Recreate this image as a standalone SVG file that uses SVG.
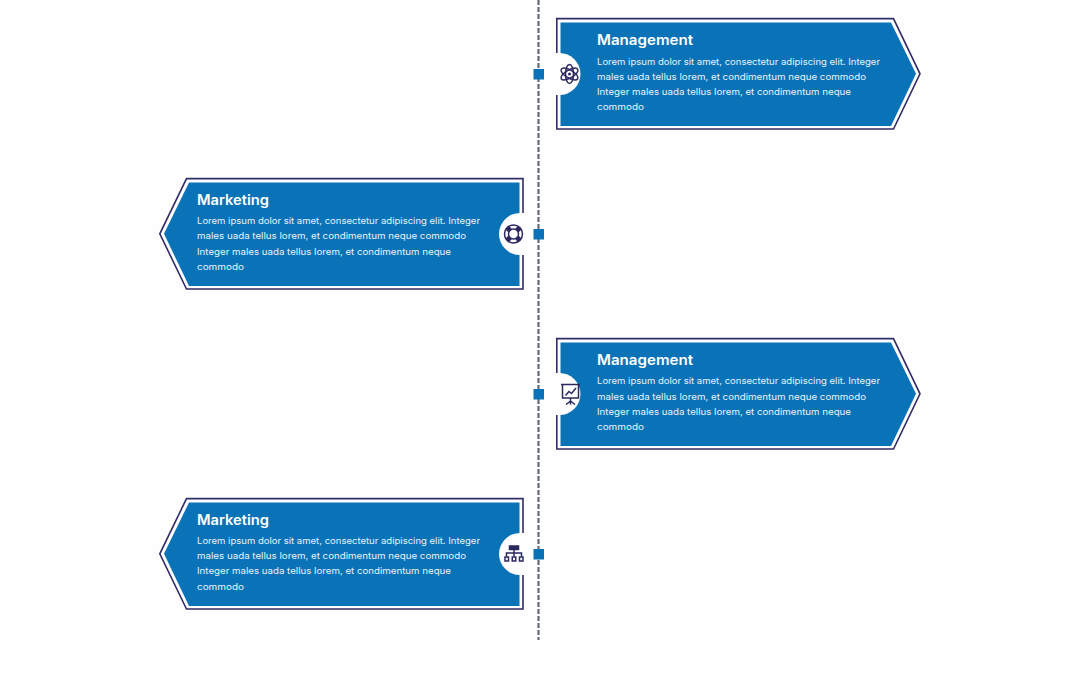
<svg xmlns="http://www.w3.org/2000/svg" xmlns:xlink="http://www.w3.org/1999/xlink" width="1080" height="675" viewBox="0 0 1080 675">
<style>
.bg{fill:#fefefe}
.out{fill:none;stroke:#2f2c66;stroke-width:1.6}
.blue{fill:#0a72b6}
.hole{fill:#fefefe}
.sq{fill:#0a72b6}
.t{font-family:"Inter","Noto Sans","Liberation Sans",sans-serif;font-size:14px;font-weight:600;fill:#fff}
.b{font-family:"Inter","Noto Sans","Liberation Sans",sans-serif;font-size:9px;fill:#e8f2f9}
.ic{fill:none;stroke:#2b2860;stroke-width:1.500}
.icf{fill:#2b2860}
</style>
<defs>
<g id="cardR">
<path class="out" d="M556.800 54V18.600H893.500L920 73.800L893.500 129H556.800V95"/>
<path class="blue" d="M560.500 22.500H891L916 73.800L891 126H560.500Z"/>
<path class="hole" d="M555 53H559.500A21 21 0 0 1 559.500 95H555Z"/>
</g>
<g id="cardL">
<path class="out" d="M523 214V178.600H186.500L159.800 233.800L186.500 289H523V255"/>
<path class="blue" d="M519.500 182.500H189L164 233.800L189 286H519.500Z"/>
<path class="hole" d="M525 213H520A21 21 0 0 0 520 255H525Z"/>
</g>
</defs>
<rect class="bg" width="1080" height="675"/>
<g id="connectors">
<line x1="538.500" y1="0" x2="538.500" y2="640" stroke="#666c76" stroke-width="2.200" stroke-dasharray="5 2"/>
<rect class="sq" x="533.500" y="69" width="10.500" height="10.500"/>
<rect class="sq" x="533.500" y="229" width="10.500" height="10.500"/>
<rect class="sq" x="533.500" y="389" width="10.500" height="10.500"/>
<rect class="sq" x="533.500" y="549" width="10.500" height="10.500"/>
</g>
<g id="node-1">
<use xlink:href="#cardR" href="#cardR"/>
<text class="t" x="597" y="45" textLength="96" lengthAdjust="spacingAndGlyphs">Management</text>
<text class="b" x="597" y="64.500" textLength="283" lengthAdjust="spacingAndGlyphs">Lorem ipsum dolor sit amet, consectetur adipiscing elit. Integer</text>
<text class="b" x="597" y="79.500" textLength="269" lengthAdjust="spacingAndGlyphs">males uada tellus lorem, et condimentum neque commodo</text>
<text class="b" x="597" y="94.500" textLength="254" lengthAdjust="spacingAndGlyphs">Integer males uada tellus lorem, et condimentum neque</text>
<text class="b" x="597" y="109.500" textLength="47" lengthAdjust="spacingAndGlyphs">commodo</text>
<g class="ic" transform="translate(569.500 74)">
<ellipse rx="4" ry="9.500"/>
<ellipse rx="4" ry="9.500" transform="rotate(60)"/>
<ellipse rx="4" ry="9.500" transform="rotate(-60)"/>
<circle class="icf" r="1.500" stroke="none"/>
</g>
</g>
<g id="node-2">
<use xlink:href="#cardL" href="#cardL"/>
<text class="t" x="197" y="205" textLength="72" lengthAdjust="spacingAndGlyphs">Marketing</text>
<text class="b" x="197" y="224" textLength="283" lengthAdjust="spacingAndGlyphs">Lorem ipsum dolor sit amet, consectetur adipiscing elit. Integer</text>
<text class="b" x="197" y="239" textLength="269" lengthAdjust="spacingAndGlyphs">males uada tellus lorem, et condimentum neque commodo</text>
<text class="b" x="197" y="254.500" textLength="254" lengthAdjust="spacingAndGlyphs">Integer males uada tellus lorem, et condimentum neque</text>
<text class="b" x="197" y="269.500" textLength="47" lengthAdjust="spacingAndGlyphs">commodo</text>
<g transform="translate(513.500 234)">
<circle class="ic" r="9"/>
<circle class="ic" r="5"/>
<path d="M-3.500 -3.500L-6.400 -6.400M3.500 -3.500L6.400 -6.400M-3.500 3.500L-6.400 6.400M3.500 3.500L6.400 6.400" stroke="#2b2860" stroke-width="5"/>
</g>
</g>
<g id="node-3">
<use xlink:href="#cardR" href="#cardR" transform="translate(0 320)"/>
<text class="t" x="597" y="365" textLength="96" lengthAdjust="spacingAndGlyphs">Management</text>
<text class="b" x="597" y="384" textLength="283" lengthAdjust="spacingAndGlyphs">Lorem ipsum dolor sit amet, consectetur adipiscing elit. Integer</text>
<text class="b" x="597" y="399.500" textLength="269" lengthAdjust="spacingAndGlyphs">males uada tellus lorem, et condimentum neque commodo</text>
<text class="b" x="597" y="414.500" textLength="254" lengthAdjust="spacingAndGlyphs">Integer males uada tellus lorem, et condimentum neque</text>
<text class="b" x="597" y="429.500" textLength="47" lengthAdjust="spacingAndGlyphs">commodo</text>
<g class="ic" transform="translate(570.500 394)">
<path d="M-9.500 -9.500H9.500M-8 -9.500V4H8V-9.500"/>
<path d="M-5 1.500L-1.500 -2.500L1 -0.500L5.500 -6"/>
<path d="M0 4V10.500M0 7L-4.500 10.500M0 7L4.500 10.500"/>
</g>
</g>
<g id="node-4">
<use xlink:href="#cardL" href="#cardL" transform="translate(0 320)"/>
<text class="t" x="197" y="525" textLength="72" lengthAdjust="spacingAndGlyphs">Marketing</text>
<text class="b" x="197" y="544" textLength="283" lengthAdjust="spacingAndGlyphs">Lorem ipsum dolor sit amet, consectetur adipiscing elit. Integer</text>
<text class="b" x="197" y="559" textLength="269" lengthAdjust="spacingAndGlyphs">males uada tellus lorem, et condimentum neque commodo</text>
<text class="b" x="197" y="574" textLength="254" lengthAdjust="spacingAndGlyphs">Integer males uada tellus lorem, et condimentum neque</text>
<text class="b" x="197" y="589.500" textLength="47" lengthAdjust="spacingAndGlyphs">commodo</text>
<g transform="translate(514 554)">
<rect class="ic" x="-4.500" y="-8" width="9" height="3.500" style="fill:#2b2860"/>
<path class="ic" d="M0 -4V-1M-7.500 2.500V-1H7.500V2.500M0 -1V2.500"/>
<rect class="ic" x="-9" y="3" width="3.500" height="4"/>
<rect class="ic" x="-1.750" y="3" width="3.500" height="4"/>
<rect class="ic" x="5.500" y="3" width="3.500" height="4"/>
</g>
</g>
</svg>
